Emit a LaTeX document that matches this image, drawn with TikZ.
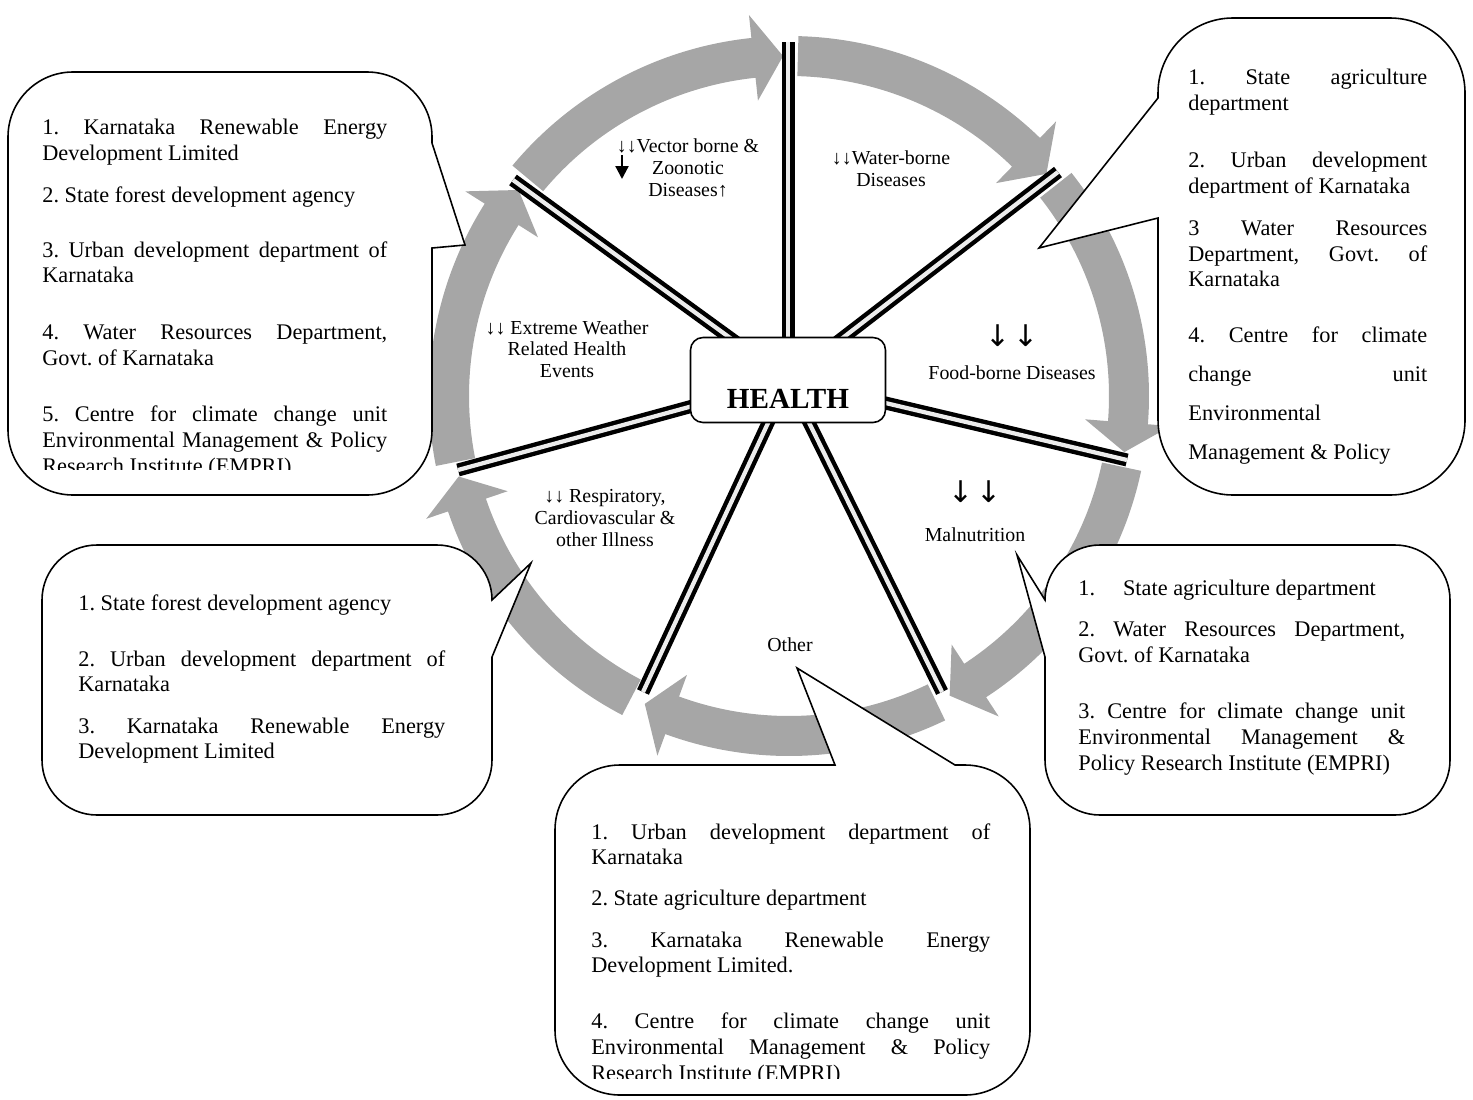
\documentclass[tikz,border=0pt]{standalone}
\usepackage{fontspec}
\setmainfont{Liberation Serif}
\newfontfamily\arrowfont{DejaVu Sans}
\usetikzlibrary{calc,arrows.meta,backgrounds}
\setlength{\parindent}{0pt}
\frenchspacing
\tolerance=10000
\hbadness=10000
\hfuzz=3pt
\definecolor{bandgray}{RGB}{166,166,166}

\begin{document}
\begin{tikzpicture}[x=0.02cm, y=-0.02cm,
  band/.style={fill=bandgray},
  spoke/.style={draw=black, line width=2.5pt, double=gray!15, double distance=2.4pt},
  callout/.style={draw=black, line width=0.9pt, fill=white},
  agency/.style={anchor=north west, inner sep=0pt, align=justify, font=\fontsize{12.7}{14.6}\selectfont},
  effect/.style={align=center, inner sep=0pt, font=\fontsize{11.3}{12.3}\selectfont}]
\useasboundingbox (0,0) rectangle (1473,1099);

\coordinate (ring) at (789,396);
\coordinate (s1) at (788,42);
\coordinate (s2) at (1058,172);
\coordinate (s3) at (1127,460);
\coordinate (s4) at (942,692);
\coordinate (s5) at (643,692);
\coordinate (s6) at (458,470);
\coordinate (s7) at (513,180);

\node[draw, line width=0.9pt, rounded corners=0.25cm, fill=white, inner sep=0pt,
  minimum width=3.9cm, text height=1.42cm, text depth=0.28cm,
  font=\bfseries\fontsize{16.6}{18}\selectfont] (health) at (788,380) {HEALTH};

\begin{pgfonlayer}{background}
\foreach \a/\b in {-141.7/-90, -90/-39.8, -39.8/10.5, 10.5/62.8, 62.8/116.1, 116.1/167.3, 167.3/218.3}
{
  \fill[band] ($(ring)+(\a+1.5:360)$) arc[start angle=\a+1.5, end angle=\b-6, radius=360]
    -- ($(ring)+(\b-6:383)$) -- ($(ring)+(\b-1:340)$) -- ($(ring)+(\b-6:297)$)
    -- ($(ring)+(\b-6:320)$) arc[start angle=\b-6, end angle=\a+1.5, radius=320] -- cycle;
}
\foreach \s in {s1,s2,s3,s4,s5,s6,s7}
{
  \draw[spoke] (health.center) -- (\s);
}
\end{pgfonlayer}

\node[effect] (vector) at (688,168) {↓↓Vector borne \&\\Zoonotic\\Diseases↑};
\coordinate (vt) at (622,155);
\coordinate (vb) at (622,179);
\draw[line width=1.3pt, -{Triangle[length=0.26cm, width=0.26cm]}] (vt) -- (vb);
\node[effect] (waterborne) at (891,169) {↓↓Water-borne\\Diseases};
\node[effect] (extreme) at (567,349) {↓↓ Extreme Weather\\Related Health\\Events};
\node[effect] (resp) at (605,518) {↓↓ Respiratory,\\Cardiovascular \&\\other Illness};
\node[effect] (food) at (1012,352) {{\arrowfont\fontsize{17}{17}\selectfont ↓\hspace{0.05cm}↓}\\[0.22cm]Food-borne Diseases};
\node[effect] (maln) at (975,511) {{\arrowfont\fontsize{17}{17}\selectfont ↓\hspace{0.05cm}↓}\\[0.34cm]Malnutrition};
\node[effect] (other) at (790,645) {Other};

\draw[callout] (73,72) -- (367,72) arc[start angle=-90, end angle=0, radius=65] -- (432,143) -- (465,245) -- (432,248)
  -- (432,430) arc[start angle=0, end angle=90, radius=65] -- (73,495) arc[start angle=90, end angle=180, radius=65]
  -- (8,137) arc[start angle=180, end angle=270, radius=65] -- cycle;
\draw[callout] (1233,18) -- (1390,18) arc[start angle=-90, end angle=0, radius=75]
  -- (1465,420) arc[start angle=0, end angle=90, radius=75] -- (1233,495) arc[start angle=90, end angle=180, radius=75]
  -- (1158,218) -- (1039,248) -- (1158,98) -- (1158,93) arc[start angle=180, end angle=270, radius=75] -- cycle;
\draw[callout] (97,545) -- (437,545) arc[start angle=-90, end angle=0, radius=55] -- (531,563) -- (492,657)
  -- (492,760) arc[start angle=0, end angle=90, radius=55] -- (97,815) arc[start angle=90, end angle=180, radius=55]
  -- (42,600) arc[start angle=180, end angle=270, radius=55] -- cycle;
\draw[callout] (1100,545) -- (1395,545) arc[start angle=-90, end angle=0, radius=55]
  -- (1450,760) arc[start angle=0, end angle=90, radius=55] -- (1100,815) arc[start angle=90, end angle=180, radius=55]
  -- (1045,657) -- (1017,555) -- (1045,600) arc[start angle=180, end angle=270, radius=55] -- cycle;
\draw[callout] (620,765) -- (835,765) -- (797,668) -- (955,765) -- (965,765) arc[start angle=-90, end angle=0, radius=65]
  -- (1030,1030) arc[start angle=0, end angle=90, radius=65] -- (620,1095) arc[start angle=90, end angle=180, radius=65]
  -- (555,830) arc[start angle=180, end angle=270, radius=65] -- cycle;

\begin{scope}
\clip (0,0) rectangle (1473,469);
\node[agency, text width=6.9cm] (energy) at (42,119) {1. Karnataka Renewable Energy\linebreak Development Limited\par\vspace{0.32cm}
2. State forest development agency\par\vspace{0.59cm}
3. Urban development department of\linebreak Karnataka\par\vspace{0.62cm}
4. Water Resources Department,\linebreak Govt. of Karnataka\par\vspace{0.62cm}
5. Centre for climate change unit\linebreak Environmental Management \& Policy\linebreak Research Institute (EMPRI)};
\end{scope}

\node[agency, text width=4.78cm] (agri) at (1188,69) {1. State agriculture\linebreak department\par\vspace{0.63cm}
2. Urban development\linebreak department of Karnataka\par\vspace{0.33cm}
3 Water Resources\linebreak Department, Govt. of\linebreak Karnataka\par\vspace{0.34cm}
{\fontsize{12.7}{22.1}\selectfont 4. Centre for climate\linebreak change unit\linebreak Environmental\newline Management \& Policy\par}};

\node[agency, text width=7.34cm] (forest) at (78,594) {1. State forest development agency\par\vspace{0.61cm}
2. Urban development department of\linebreak Karnataka\par\vspace{0.31cm}
3. Karnataka Renewable Energy\linebreak Development Limited};

\node[agency, text width=6.54cm] (water) at (1078,580) {1.\hspace{0.56cm}State agriculture department\par\vspace{0.31cm}
2. Water Resources Department,\linebreak Govt. of Karnataka\par\vspace{0.61cm}
3. Centre for climate change unit\linebreak Environmental Management \&\linebreak Policy Research Institute (EMPRI)};

\begin{scope}
\clip (0,0) rectangle (1473,1078);
\node[agency, text width=7.98cm] (urban) at (591,823) {1. Urban development department of\linebreak Karnataka\par\vspace{0.31cm}
2. State agriculture department\par\vspace{0.31cm}
3. Karnataka Renewable Energy\linebreak Development Limited.\par\vspace{0.61cm}
4. Centre for climate change unit\linebreak Environmental Management \& Policy\linebreak Research Institute (EMPRI)};
\end{scope}

\end{tikzpicture}
\end{document}
